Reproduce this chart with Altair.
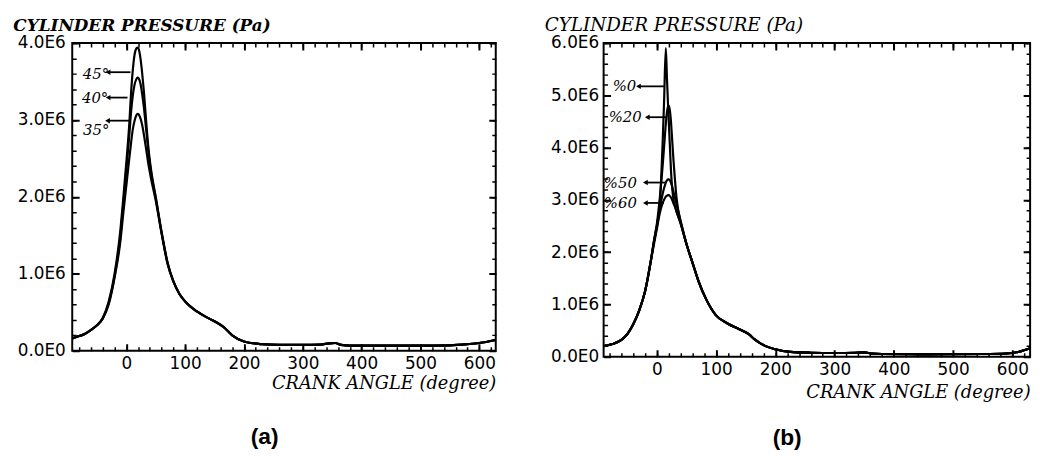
import altair as alt
import pandas as pd

# ---------------- Panel (a): ignition advance ----------------
a_deg = [-92, -80, -70, -60, -50, -40, -30, -20, -10,
         -5, 0, 5, 8, 11, 14, 17, 19, 21, 24, 27, 30, 34, 38, 43, 50,
         60, 70, 80, 90, 100, 120, 140, 155, 165, 180, 200, 230, 260, 300,
         330, 345, 355, 365, 380, 450, 500, 550, 580, 600, 628]
a_45 = [0.16, 0.19, 0.22, 0.27, 0.33, 0.43, 0.64, 1.00, 1.58,
        2.00, 2.45, 2.95, 3.35, 3.65, 3.85, 3.93, 3.94, 3.92, 3.80, 3.60, 3.35, 2.95, 2.60, 2.30, 2.00,
        1.54, 1.15, 0.90, 0.74, 0.64, 0.51, 0.42, 0.36, 0.31, 0.20, 0.12, 0.085, 0.075, 0.075,
        0.08, 0.095, 0.10, 0.075, 0.065, 0.065, 0.065, 0.07, 0.085, 0.10, 0.14]
a_40 = [0.16, 0.19, 0.22, 0.27, 0.33, 0.42, 0.62, 0.97, 1.50,
        1.92, 2.35, 2.80, 3.10, 3.32, 3.46, 3.53, 3.55, 3.54, 3.47, 3.33, 3.15, 2.85, 2.55, 2.27, 1.98,
        1.53, 1.14, 0.90, 0.74, 0.64, 0.51, 0.42, 0.36, 0.31, 0.20, 0.12, 0.085, 0.075, 0.075,
        0.08, 0.095, 0.10, 0.075, 0.065, 0.065, 0.065, 0.07, 0.085, 0.10, 0.14]
a_35 = [0.16, 0.19, 0.22, 0.27, 0.33, 0.42, 0.60, 0.95, 1.43,
        1.80, 2.15, 2.50, 2.70, 2.88, 2.99, 3.06, 3.08, 3.07, 3.02, 2.93, 2.80, 2.60, 2.40, 2.20, 1.95,
        1.52, 1.13, 0.90, 0.74, 0.64, 0.51, 0.42, 0.36, 0.31, 0.20, 0.12, 0.085, 0.075, 0.075,
        0.08, 0.095, 0.10, 0.075, 0.065, 0.065, 0.065, 0.07, 0.085, 0.10, 0.14]

a_labels = ["45°", "40°", "35°"]
a_label_x = [-74.0, -75.5, -73.5]
a_label_y = [3.59, 3.28, 2.87]
a_lead_x1 = [-31.0, -31.0, -32.0]
a_lead_x2 = [7.0, 2.0, 5.5]
a_lead_y = [3.62, 3.29, 2.99]

# ---------------- Panel (b): EGR / dilution ----------------
b_deg = [-90, -75, -60, -50, -40, -30, -20, -10,
         -5, 0, 5, 10, 12, 15, 17, 19, 20, 22, 24, 26, 28, 30, 33, 36, 40,
         50, 60, 70, 83, 99, 120, 140, 155, 165, 180, 200, 225, 260, 300,
         335, 350, 362, 380, 450, 550, 590, 610, 630]
b_head = [0.20, 0.24, 0.32, 0.43, 0.62, 0.88, 1.25, 1.85]
b_tail = [2.15, 1.80, 1.45, 1.10, 0.80, 0.63, 0.52, 0.43, 0.33, 0.22, 0.14, 0.09, 0.075, 0.07,
          0.075, 0.08, 0.06, 0.05, 0.045, 0.05, 0.06, 0.09, 0.16]
b_0 = b_head + [2.20, 2.50, 2.95, 4.20, 4.85, 5.90, 5.30, 4.75, 4.50, 4.00, 3.50, 3.20, 3.00, 2.90, 2.78, 2.68, 2.55] + b_tail
b_20 = b_head + [2.22, 2.55, 3.05, 3.70, 4.00, 4.45, 4.68, 4.80, 4.80, 4.70, 4.45, 4.10, 3.75, 3.45, 3.05, 2.80, 2.58] + b_tail
b_50 = b_head + [2.20, 2.50, 2.85, 3.13, 3.22, 3.33, 3.37, 3.39, 3.39, 3.37, 3.32, 3.24, 3.15, 3.06, 2.92, 2.78, 2.60] + b_tail
b_60 = b_head + [2.15, 2.45, 2.75, 2.95, 3.00, 3.06, 3.08, 3.09, 3.09, 3.07, 3.04, 2.99, 2.93, 2.88, 2.78, 2.68, 2.55] + b_tail

b_labels = ["%0", "%20", "%50", "%60"]
b_label_x = [-74.6, -81.3, -89.6, -89.6]
b_label_y = [5.17, 4.59, 3.32, 2.93]
b_lead_x1 = [-31.2, -16.2, -19.5, -19.5]
b_lead_x2 = [13.0, 16.5, 16.0, 12.0]
b_lead_y = [5.17, 4.58, 3.33, 2.94]

SANS = "DejaVu Sans"
SERIF = "DejaVu Serif"


def long_df(deg, series):
    rows = []
    for name, vals in series.items():
        for d, v in zip(deg, vals):
            rows.append({"deg": d, "p": v, "series": name})
    return pd.DataFrame(rows)


def ann_df(labels, lx, ly, x1, x2, y):
    return pd.DataFrame({"text": labels, "tx": lx, "ty": ly, "x1": x1, "x2": x2, "ly": y})


def panel(df, ann, xdom, ymax, width, height, ytitle_weight, ytitle_size, ytitle_y, xtitle_y,
          cap, cap_x, cap_y, ylab_pad):
    xs = alt.Scale(domain=xdom, nice=False, zero=False)
    ys = alt.Scale(domain=[0, ymax], nice=False, zero=False)
    xmaj = [0, 100, 200, 300, 400, 500, 600]
    xmin = [v for v in range(-80, 630, 20) if v <= xdom[1]]
    ymaj = list(range(0, ymax + 1))
    ymin = [round(i * 0.2, 1) for i in range(ymax * 5 + 1)]

    # inward tick marks on both opposite frame edges, drawn as dashed grid lines
    def dash(length, tick):
        return [tick, length - 2 * tick, tick, 2 * length]

    bottom_major = alt.Axis(orient="bottom", values=xmaj, ticks=False, domain=False,
                            grid=True, gridColor="black", gridOpacity=1, gridWidth=2,
                            gridDash=dash(height, 7),
                            labelFont=SANS, labelFontSize=17, labelColor="black", labelPadding=5,
                            labelFlush=False, labelOverlap=False,
                            title="CRANK ANGLE (degree)", titleFont=SERIF, titleFontStyle="italic",
                            titleFontWeight="normal", titleFontSize=18, titleColor="black",
                            titleAlign="right", titleBaseline="alphabetic",
                            titleX=width, titleY=xtitle_y)
    bottom_minor = alt.Axis(orient="bottom", values=xmin, ticks=False, domain=False, labels=False,
                            grid=True, gridColor="black", gridOpacity=1, gridWidth=1.5,
                            gridDash=dash(height, 4),
                            title=cap, titleFont="Liberation Sans",
                            titleFontWeight="bold", titleFontSize=23, titleColor="black",
                            titleAlign="center", titleBaseline="middle",
                            titleX=cap_x, titleY=cap_y)
    left_major = alt.Axis(orient="left", values=ymaj, ticks=False, domain=False,
                          grid=True, gridColor="black", gridOpacity=1, gridWidth=2,
                          gridDash=dash(width, 7),
                          labelFont=SANS, labelFontSize=17, labelColor="black",
                          labelPadding=ylab_pad, labelFlush=False, labelOverlap=False,
                          labelExpr="datum.value == 0 ? '0.0E0' : format(datum.value, '.1f') + 'E6'",
                          title="CYLINDER PRESSURE (Pa)", titleAngle=0, titleAlign="left",
                          titleBaseline="alphabetic", titleX=-60, titleY=ytitle_y,
                          titleFont=SERIF, titleFontStyle="italic", titleFontWeight=ytitle_weight,
                          titleFontSize=ytitle_size, titleColor="black")
    left_minor = alt.Axis(orient="left", values=ymin, ticks=False, domain=False, labels=False,
                          grid=True, gridColor="black", gridOpacity=1, gridWidth=1.5,
                          gridDash=dash(width, 4), title=None)

    base = alt.Chart(df)

    def enc(xa, ya):
        return dict(x=alt.X("deg:Q", scale=xs, axis=xa),
                    y=alt.Y("p:Q", scale=ys, axis=ya),
                    detail="series:N")

    lines = base.mark_line(color="black", strokeWidth=2.2, interpolate="monotone").encode(
        **enc(bottom_major, left_major))
    minor = base.mark_line(opacity=0).encode(**enc(bottom_minor, left_minor))

    a = alt.Chart(ann)
    leaders = a.mark_rule(color="black", strokeWidth=1.8).encode(
        x=alt.X("x1:Q", scale=xs, axis=None), x2="x2:Q",
        y=alt.Y("ly:Q", scale=ys, axis=None))
    heads = a.mark_point(shape="triangle-left", filled=True, color="black", size=30, opacity=1).encode(
        x=alt.X("x1:Q", scale=xs, axis=None), y=alt.Y("ly:Q", scale=ys, axis=None))
    texts = a.mark_text(align="left", baseline="middle", font=SERIF, fontStyle="italic",
                        fontSize=15, color="black").encode(
        x=alt.X("tx:Q", scale=xs, axis=None), y=alt.Y("ty:Q", scale=ys, axis=None), text="text:N")

    return alt.layer(lines, minor, leaders, heads, texts).resolve_axis(
        x="independent", y="independent").properties(width=width, height=height)


df_a = long_df(a_deg, {"45": a_45, "40": a_40, "35": a_35})
df_b = long_df(b_deg, {"0": b_0, "20": b_20, "50": b_50, "60": b_60})
ann_a = ann_df(a_labels, a_label_x, a_label_y, a_lead_x1, a_lead_x2, a_lead_y)
ann_b = ann_df(b_labels, b_label_x, b_label_y, b_lead_x1, b_lead_x2, b_lead_y)

left = panel(df_a, ann_a, [-92, 628], 4, 428, 311, "bold", 17, -13, 38, "(a)", 194, 87, 7)
right = panel(df_b, ann_b, [-90, 630], 6, 431, 317, "normal", 18.5, -13, 41, "(b)", 185, 82, 5)

chart = alt.hconcat(left, right, spacing=42).properties(
    padding={"left": 12, "top": 12, "right": 4, "bottom": 4},
    background="white",
).configure_view(stroke="black", strokeWidth=2)

chart.save("out.html", embed_options={"renderer": "svg", "actions": False})
